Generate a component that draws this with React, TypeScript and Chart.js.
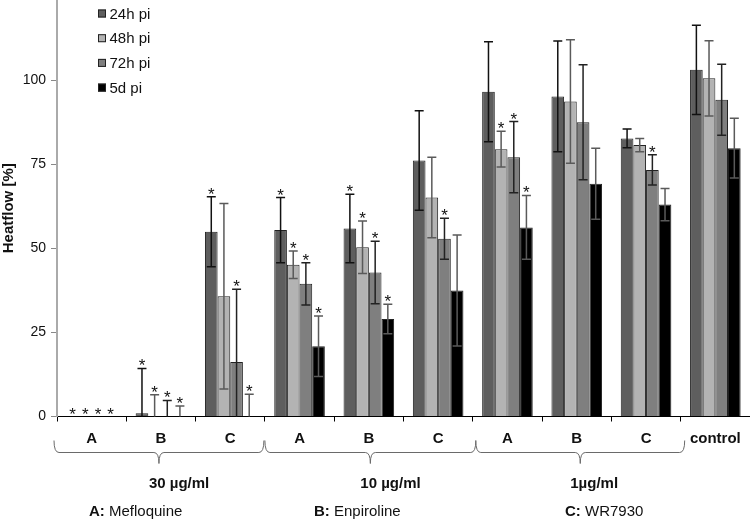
import React, { useEffect, useRef } from 'react';
import { Chart, registerables } from 'chart.js';

Chart.register(...registerables);

// ---------- data ----------
const categories = ['A', 'B', 'C', 'A', 'B', 'C', 'A', 'B', 'C', 'control'];
const seriesLabels = ['24h pi', '48h pi', '72h pi', '5d pi'];

const values24h = [0, 1, 55, 55.5, 56, 76.2, 96.7, 95.3, 82.8, 103.2];
const values48h = [0, 0, 35.8, 45.2, 50.4, 65.2, 79.6, 93.8, 80.8, 100.7];
const values72h = [0, 0, 16.2, 39.5, 42.9, 52.9, 77.2, 87.6, 73.4, 94.3];
const values5d = [0, 0, 0, 20.9, 29, 37.5, 56.3, 69.3, 63.1, 79.9];

const errors24h = [0, 13.3, 10.4, 9.7, 10.2, 14.8, 14.9, 16.5, 2.8, 13.3];
const errors48h = [0, 6.5, 27.6, 4.1, 7.8, 12.0, 5.3, 18.4, 2.0, 11.2];
const errors72h = [0, 4.8, 21.7, 6.3, 9.3, 6.1, 10.6, 17.1, 4.5, 10.6];
const errors5d = [0, 3.1, 6.6, 9.0, 4.4, 16.5, 9.5, 10.6, 4.8, 8.9];

const signif24h = [1, 1, 1, 1, 1, 0, 0, 0, 0, 0];
const signif48h = [1, 1, 0, 1, 1, 0, 1, 0, 0, 0];
const signif72h = [1, 1, 1, 1, 1, 1, 1, 0, 1, 0];
const signif5d = [1, 1, 1, 1, 1, 0, 1, 0, 0, 0];

const yTicks = [0, 25, 50, 75, 100];
const yMax = 124;
const concentrationLabels = ['30 µg/ml', '10 µg/ml', '1µg/ml'];
const drugKeys = ['A:', 'B:', 'C:'];
const drugNames = [' Mefloquine', ' Enpiroline', ' WR7930'];

// ---------- styles ----------
const FONT = '"Liberation Sans", Arial, Helvetica, sans-serif';
const fillColors = ['#5e5e5e', '#b3b3b3', '#7f7f7f', '#000000'];
const errColors = ['#111111', '#5a5a5a', '#222222', '#5a5a5a'];

const allValues = [values24h, values48h, values72h, values5d];
const allErrors = [errors24h, errors48h, errors72h, errors5d];
const allSignif = [signif24h, signif48h, signif72h, signif5d];

function drawBrace(ctx: CanvasRenderingContext2D, xL: number, xR: number, yTop: number, yMid: number, yTip: number) {
  const xc = (xL + xR) / 2;
  ctx.beginPath();
  ctx.moveTo(xL, yTop);
  ctx.quadraticCurveTo(xL, yMid, xL + 5, yMid);
  ctx.lineTo(xc - 5, yMid);
  ctx.quadraticCurveTo(xc, yMid, xc, yTip);
  ctx.moveTo(xc, yTip);
  ctx.quadraticCurveTo(xc, yMid, xc + 5, yMid);
  ctx.lineTo(xR - 5, yMid);
  ctx.quadraticCurveTo(xR, yMid, xR, yTop);
  ctx.stroke();
}

const extrasPlugin = {
  id: 'extras',
  afterDatasetsDraw(chart: any) {
    const ctx: CanvasRenderingContext2D = chart.ctx;
    const y = chart.scales.y;
    ctx.save();
    allValues.forEach((vals, d) => {
      const meta = chart.getDatasetMeta(d);
      meta.data.forEach((bar: any, i: number) => {
        const v = vals[i];
        const e = allErrors[d][i];
        let topPx = y.getPixelForValue(v);
        if (e > 0) {
          const yTop = y.getPixelForValue(v + e);
          const lowVal = v - e;
          const yBot = y.getPixelForValue(Math.max(0, lowVal));
          ctx.strokeStyle = errColors[d];
          ctx.lineWidth = 1.5;
          ctx.beginPath();
          ctx.moveTo(bar.x, yBot);
          ctx.lineTo(bar.x, yTop);
          ctx.moveTo(bar.x - 4.5, yTop);
          ctx.lineTo(bar.x + 4.5, yTop);
          if (lowVal > 0) {
            ctx.moveTo(bar.x - 4.5, yBot);
            ctx.lineTo(bar.x + 4.5, yBot);
          }
          ctx.stroke();
          topPx = yTop;
        }
        if (allSignif[d][i]) {
          ctx.fillStyle = '#111';
          ctx.font = `17px ${FONT}`;
          ctx.textAlign = 'center';
          ctx.textBaseline = 'alphabetic';
          ctx.fillText('*', bar.x, topPx + 3);
        }
      });
    });
    ctx.restore();
  },
  afterDraw(chart: any) {
    const ctx: CanvasRenderingContext2D = chart.ctx;
    const x = chart.scales.x;
    const area = chart.chartArea;
    const catW = (area.right - area.left) / categories.length;
    ctx.save();

    // legend (inside the plot, top-left)
    ctx.font = `15px ${FONT}`;
    ctx.textBaseline = 'middle';
    ctx.textAlign = 'left';
    seriesLabels.forEach((lab, d) => {
      const cy = area.top + 13.5 + d * 24.7;
      const bx = area.left + 41;
      ctx.fillStyle = fillColors[d];
      ctx.fillRect(bx, cy - 4, 8, 8);
      ctx.strokeStyle = '#222';
      ctx.lineWidth = 1;
      ctx.strokeRect(bx + 0.5, cy - 3.5, 7, 7);
      ctx.fillStyle = '#111';
      ctx.fillText(lab, bx + 11.5, cy + 1);
    });

    // braces and concentration labels
    const braceOffsets = [[-3, -1], [0, 3], [3, 4]];
    ctx.strokeStyle = '#6a6a6a';
    ctx.lineWidth = 1;
    concentrationLabels.forEach((lab, g) => {
      const xL = x.getPixelForValue(g * 3) - catW / 2 + braceOffsets[g][0];
      const xR = x.getPixelForValue(g * 3 + 2) + catW / 2 + braceOffsets[g][1];
      drawBrace(ctx, xL, xR, area.bottom + 24, area.bottom + 36, area.bottom + 47);
      const xc = (xL + xR) / 2;
      ctx.fillStyle = '#111';
      ctx.font = `bold 15px ${FONT}`;
      ctx.textAlign = 'left';
      ctx.textBaseline = 'middle';
      ctx.fillText(lab, xc - 10, area.bottom + 67);
    });

    // drug key
    const keyX = [area.left + 32, area.left + 257, area.left + 508];
    drugKeys.forEach((k, i) => {
      ctx.textAlign = 'left';
      ctx.textBaseline = 'middle';
      ctx.fillStyle = '#111';
      ctx.font = `bold 15px ${FONT}`;
      ctx.fillText(k, keyX[i], area.bottom + 95.5);
      const w = ctx.measureText(k).width;
      ctx.font = `15px ${FONT}`;
      ctx.fillText(drugNames[i], keyX[i] + w, area.bottom + 95.5);
    });
    ctx.restore();
  },
};

export default function App() {
  const canvasRef = useRef<HTMLCanvasElement | null>(null);

  useEffect(() => {
    if (!canvasRef.current) return;
    const chart = new Chart(canvasRef.current, {
      type: 'bar',
      data: {
        labels: categories,
        datasets: allValues.map((vals, d) => ({
          label: seriesLabels[d],
          data: vals,
          backgroundColor: fillColors[d],
          borderColor: '#222222',
          borderWidth: 1,
          categoryPercentage: 0.73,
          barPercentage: 1.0,
        })),
      },
      options: {
        responsive: false,
        animation: false,
        devicePixelRatio: 1,
        layout: { padding: { left: 0, right: 0, top: 0, bottom: 0 } },
        plugins: {
          legend: { display: false },
          tooltip: { enabled: false },
        },
        scales: {
          x: {
            afterFit: (s: any) => {
              s.height = 102.5;
              s.paddingLeft = 0;
              s.paddingRight = 0;
            },
            border: { color: '#000', width: 1 },
            grid: {
              display: true,
              drawOnChartArea: false,
              drawTicks: true,
              tickLength: 5,
              color: '#000',
              offset: true,
            },
            ticks: {
              color: '#111',
              padding: 8,
              maxRotation: 0,
              autoSkip: false,
              font: { family: FONT, size: 15, weight: 'bold' },
            },
          },
          y: {
            min: 0,
            max: yMax,
            afterFit: (s: any) => {
              s.width = 57;
              s.paddingTop = 0;
              s.paddingBottom = 0;
            },
            afterBuildTicks: (s: any) => {
              s.ticks = yTicks.map((v) => ({ value: v }));
            },
            border: { color: '#aaaaaa', width: 2 },
            grid: {
              display: true,
              drawOnChartArea: false,
              drawTicks: true,
              tickLength: 6,
              color: '#888',
            },
            ticks: {
              color: '#111',
              padding: 5,
              font: { family: FONT, size: 14 },
            },
            title: {
              display: true,
              text: 'Heatflow [%]',
              color: '#111',
              padding: 0,
              font: { family: FONT, size: 15, weight: 'bold' },
            },
          },
        },
      },
      plugins: [extrasPlugin],
    } as any);
    return () => chart.destroy();
  }, []);

  return (
    <div style={{ position: 'absolute', left: 0, top: 0, width: 750, height: 519, background: '#fff' }}>
      <canvas ref={canvasRef} width={750} height={519} style={{ display: 'block', width: 750, height: 519 }} />
    </div>
  );
}
